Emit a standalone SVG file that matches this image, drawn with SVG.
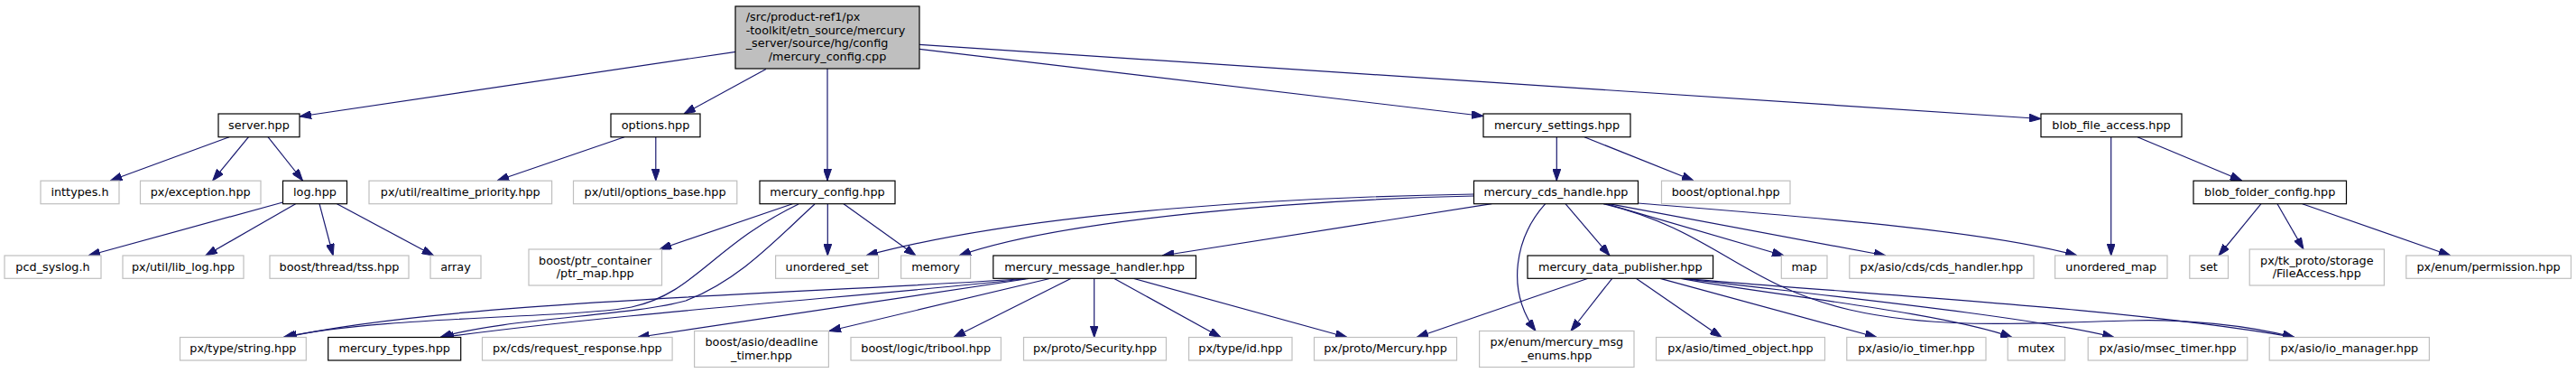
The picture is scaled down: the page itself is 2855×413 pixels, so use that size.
<svg xmlns="http://www.w3.org/2000/svg" width="2855" height="413" viewBox="0 0 2855 413">
<style>
.e path{fill:none;stroke:#191970;stroke-width:1.2;marker-end:url(#a)}
rect{fill:#fff;stroke-width:1.2}
.g rect{stroke:#bfbfbf}
.b rect{stroke:#000}
.m rect{fill:#bfbfbf;stroke:#000}
text{font-family:"DejaVu Sans",sans-serif;font-size:12.8px;fill:#000;text-anchor:middle}
text.l{text-anchor:start}
</style>
<defs>
<marker id="a" markerUnits="userSpaceOnUse" viewBox="0 0 13 9" markerWidth="13" markerHeight="9" refX="13" refY="4.5" orient="auto">
<path d="M0,0 L13,4.5 L0,9 z" fill="#191970" stroke="#191970" stroke-width="1"/>
</marker>
</defs>
<rect x="0" y="0" width="2855" height="413" fill="#fff" stroke="none"/>
<g class="e" id="edges">
<path d="M815.5,57.3 L332,129"/>
<path d="M849,76.5 L758,126"/>
<path d="M917,76 L917,200"/>
<path d="M1019,54.3 L1644,128.5"/>
<path d="M1019,49.3 L2262,131.5"/>
<path d="M254,151.7 L122.4,200"/>
<path d="M275.5,151.7 L235.7,200"/>
<path d="M297,151.7 L335.5,200"/>
<path d="M313.5,224 L98,283"/>
<path d="M327.6,225.7 L227.8,283"/>
<path d="M354,225.7 L369.2,283"/>
<path d="M373.5,225.7 L480.6,283"/>
<path d="M692,151.7 L551,200"/>
<path d="M726.8,151.7 L726.8,200"/>
<path d="M878.3,225.7 L731,276"/>
<path d="M917.3,225.7 L917.3,283"/>
<path d="M935,225.7 L1015,283"/>
<path d="M885,226 C790,272 770,325 700,340 C640,352 420,350 314,373.5"/>
<path d="M903,226 C860,265 820,310 760,333 C700,350 560,352 488,373.5"/>
<path d="M1137,308.5 C900,325 500,333 316,373.5"/>
<path d="M1137,308.5 C1000,325 700,345 490,373.5"/>
<path d="M1140,308.5 L706.7,373.5"/>
<path d="M1163.3,308.5 L919,366.5"/>
<path d="M1186.7,308.5 L1057,373.5"/>
<path d="M1212.7,308.5 L1212.7,373.5"/>
<path d="M1235,308.5 L1353,373.5"/>
<path d="M1256.7,308.5 L1493,373.5"/>
<path d="M1633.5,215 C1450,218 1150,232 960,283"/>
<path d="M1633.5,217 C1450,221 1180,242 1063,283"/>
<path d="M1653.3,225.7 L1288.3,283"/>
<path d="M1712.7,225.7 C1680,262 1668,320 1702,366.5"/>
<path d="M1735,225.7 L1784,283"/>
<path d="M1780,225.7 L1977,283"/>
<path d="M1783,225.7 L2090,283"/>
<path d="M1815.3,225 C2000,240 2200,255 2302,283"/>
<path d="M1777,225.7 C1900,255 1930,315 2050,343 C2146,365 2250,358 2360,355 C2420,353 2490,360 2543,373.5"/>
<path d="M1725.3,151.7 L1725.3,200"/>
<path d="M1756,151.7 L1877,200"/>
<path d="M2339.7,151.7 L2339.7,283"/>
<path d="M2369,151.7 L2484.7,200"/>
<path d="M2506,225.7 L2459,283"/>
<path d="M2524,225.7 L2553,276"/>
<path d="M2551.7,225.7 L2716,283"/>
<path d="M1760,308.3 L1570,373.5"/>
<path d="M1786.7,308.3 L1741,366.5"/>
<path d="M1813.3,308.3 L1908,373.5"/>
<path d="M1840,308.3 L2080,373.5"/>
<path d="M1863,308.3 C1950,325 2150,345 2230,373.5"/>
<path d="M1865,308.3 C2000,325 2250,350 2343,373.5"/>
<path d="M1867,308.3 C2050,325 2350,340 2543,373.5"/>
</g>
<g id="n_main" class="m"><rect x="815" y="7" width="204" height="69"/>
<text class="l" x="826.7" y="23.3">/src/product-ref1/px</text>
<text class="l" x="826.7" y="37.8">-toolkit/etn_source/mercury</text>
<text class="l" x="826.7" y="52.3">_server/source/hg/config</text>
<text x="917" y="66.6">/mercury_config.cpp</text></g>
<g id="n_server" class="b"><rect x="242" y="126" width="90" height="25.7"/><text x="287" y="143.2">server.hpp</text></g>
<g id="n_options" class="b"><rect x="677" y="126" width="99" height="25.7"/><text x="726.5" y="143.2">options.hpp</text></g>
<g id="n_msettings" class="b"><rect x="1644" y="126" width="163" height="25.7"/><text x="1725.5" y="143.2">mercury_settings.hpp</text></g>
<g id="n_bfa" class="b"><rect x="2262" y="126" width="156" height="25.7"/><text x="2340" y="143.2">blob_file_access.hpp</text></g>
<g id="n_inttypes" class="g"><rect x="45" y="200.2" width="87" height="25.5"/><text x="88.5" y="217.2">inttypes.h</text></g>
<g id="n_exception" class="g"><rect x="155.5" y="200.2" width="133.5" height="25.5"/><text x="222.2" y="217.2">px/exception.hpp</text></g>
<g id="n_log" class="b"><rect x="313.5" y="200.2" width="71" height="25.5"/><text x="349" y="217.2">log.hpp</text></g>
<g id="n_rtprio" class="g"><rect x="409" y="200.2" width="202.6" height="25.5"/><text x="510.3" y="217.2">px/util/realtime_priority.hpp</text></g>
<g id="n_optbase" class="g"><rect x="635.5" y="200.2" width="181.3" height="25.5"/><text x="726.1" y="217.2">px/util/options_base.hpp</text></g>
<g id="n_mconfig" class="b"><rect x="842" y="200.2" width="150" height="25.5"/><text x="917" y="217.2">mercury_config.hpp</text></g>
<g id="n_cds" class="b"><rect x="1633.5" y="200.2" width="182" height="25.5"/><text x="1724.5" y="217.2">mercury_cds_handle.hpp</text></g>
<g id="n_optional" class="g"><rect x="1841.5" y="200.2" width="142.5" height="25.5"/><text x="1912.7" y="217.2">boost/optional.hpp</text></g>
<g id="n_bfc" class="b"><rect x="2431" y="200.2" width="169.5" height="25.5"/><text x="2515.7" y="217.2">blob_folder_config.hpp</text></g>
<g id="n_pcd" class="g"><rect x="5" y="283" width="107" height="25.3"/><text x="58.5" y="300">pcd_syslog.h</text></g>
<g id="n_liblog" class="g"><rect x="136" y="283" width="134" height="25.3"/><text x="203" y="300">px/util/lib_log.hpp</text></g>
<g id="n_tss" class="g"><rect x="299" y="283" width="154" height="25.3"/><text x="376" y="300">boost/thread/tss.hpp</text></g>
<g id="n_array" class="g"><rect x="477" y="283" width="56" height="25.3"/><text x="505" y="300">array</text></g>
<g id="n_ptrmap" class="g"><rect x="586" y="276" width="147.5" height="40"/><text x="659.7" y="292.8">boost/ptr_container</text><text x="659.7" y="307.3">/ptr_map.hpp</text></g>
<g id="n_uset" class="g"><rect x="859.6" y="283" width="114" height="25.3"/><text x="916.6" y="300">unordered_set</text></g>
<g id="n_memory" class="g"><rect x="998.6" y="283" width="77" height="25.3"/><text x="1037.1" y="300">memory</text></g>
<g id="n_mmh" class="b"><rect x="1100.8" y="283" width="224.7" height="25.3"/><text x="1213.1" y="300">mercury_message_handler.hpp</text></g>
<g id="n_mdp" class="b"><rect x="1693" y="283" width="205.6" height="25.3"/><text x="1795.8" y="300">mercury_data_publisher.hpp</text></g>
<g id="n_map" class="g"><rect x="1974.3" y="283" width="50.7" height="25.3"/><text x="1999.6" y="300">map</text></g>
<g id="n_cdsh" class="g"><rect x="2049.8" y="283" width="204.2" height="25.3"/><text x="2151.9" y="300">px/asio/cds/cds_handler.hpp</text></g>
<g id="n_umap" class="g"><rect x="2277.6" y="283" width="124.4" height="25.3"/><text x="2339.8" y="300">unordered_map</text></g>
<g id="n_set" class="g"><rect x="2426.8" y="283" width="42.7" height="25.3"/><text x="2448.1" y="300">set</text></g>
<g id="n_fa" class="g"><rect x="2493.2" y="276" width="149.2" height="40"/><text x="2567.8" y="292.8">px/tk_proto/storage</text><text x="2567.8" y="307.3">/FileAccess.hpp</text></g>
<g id="n_perm" class="g"><rect x="2666.8" y="283" width="182.7" height="25.3"/><text x="2758.1" y="300">px/enum/permission.hpp</text></g>
<g id="n_string" class="g"><rect x="199.5" y="373.5" width="139.8" height="25.5"/><text x="269.4" y="390.4">px/type/string.hpp</text></g>
<g id="n_mtypes" class="b"><rect x="363.7" y="373.5" width="147" height="25.5"/><text x="437.2" y="390.4">mercury_types.hpp</text></g>
<g id="n_reqresp" class="g"><rect x="534.5" y="373.5" width="210.6" height="25.5"/><text x="639.8" y="390.4">px/cds/request_response.hpp</text></g>
<g id="n_deadline" class="g"><rect x="769.6" y="366.5" width="148.8" height="40"/><text x="844" y="383.3">boost/asio/deadline</text><text x="844" y="397.8">_timer.hpp</text></g>
<g id="n_tribool" class="g"><rect x="943" y="373.5" width="166.4" height="25.5"/><text x="1026.2" y="390.4">boost/logic/tribool.hpp</text></g>
<g id="n_security" class="g"><rect x="1134.5" y="373.5" width="158" height="25.5"/><text x="1213.5" y="390.4">px/proto/Security.hpp</text></g>
<g id="n_id" class="g"><rect x="1317.6" y="373.5" width="114.4" height="25.5"/><text x="1374.8" y="390.4">px/type/id.hpp</text></g>
<g id="n_mercury" class="g"><rect x="1456.5" y="373.5" width="158" height="25.5"/><text x="1535.5" y="390.4">px/proto/Mercury.hpp</text></g>
<g id="n_msgenums" class="g"><rect x="1639.6" y="366.5" width="171.4" height="40"/><text x="1725.3" y="383.3">px/enum/mercury_msg</text><text x="1725.3" y="397.8">_enums.hpp</text></g>
<g id="n_timedobj" class="g"><rect x="1835.5" y="373.5" width="187" height="25.5"/><text x="1929" y="390.4">px/asio/timed_object.hpp</text></g>
<g id="n_iotimer" class="g"><rect x="2046.8" y="373.5" width="154.2" height="25.5"/><text x="2123.9" y="390.4">px/asio/io_timer.hpp</text></g>
<g id="n_mutex" class="g"><rect x="2225.2" y="373.5" width="63.4" height="25.5"/><text x="2256.9" y="390.4">mutex</text></g>
<g id="n_msec" class="g"><rect x="2314.2" y="373.5" width="176.6" height="25.5"/><text x="2402.5" y="390.4">px/asio/msec_timer.hpp</text></g>
<g id="n_iomgr" class="g"><rect x="2515.2" y="373.5" width="177.2" height="25.5"/><text x="2603.8" y="390.4">px/asio/io_manager.hpp</text></g>
</svg>
